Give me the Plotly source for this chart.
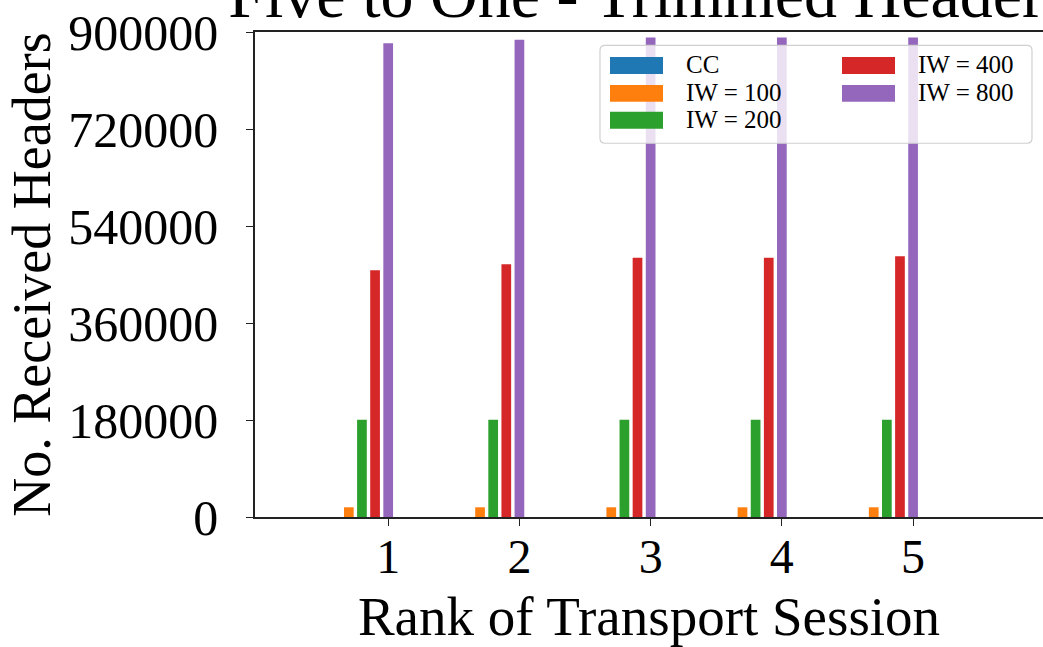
import plotly.graph_objects as go

ranks = [1, 2, 3, 4, 5]
series_names = ["CC", "IW = 100", "IW = 200", "IW = 400", "IW = 800"]
cc = [0, 0, 0, 0, 0]
iw100 = [18000, 18000, 18000, 18000, 18000]
iw200 = [180500, 180500, 180500, 180500, 180500]
iw400 = [458000, 469000, 481000, 481000, 484000]
iw800 = [879000, 885500, 890000, 890000, 890000]
series_values = [cc, iw100, iw200, iw400, iw800]
colors = ["#1f77b4", "#ff7f0e", "#2ca02c", "#d62728", "#9467bd"]
y_ticks = [0, 180000, 360000, 540000, 720000, 900000]

FONT = "Liberation Serif"
W, H = 1043, 647
L, R, T, B = 255, 0, 31.5, 129.5

fig = go.Figure()
step = 0.1
bw = 0.074
for i, (name, vals, col) in enumerate(zip(series_names, series_values, colors)):
    fig.add_trace(go.Bar(
        x=ranks, y=vals, name=name, marker=dict(color=col, line=dict(width=0)),
        width=bw, offset=-(4 - i) * step - bw / 2, showlegend=False,
    ))

pw = W - L - R
ph = H - T - B
def px2x(px):
    return (px - L) / pw
def py2y(py):
    return (H - B - py) / ph

# legend frame (semi-transparent white, rounded)
fx0, fx1, fy0, fy1, rr = 600, 1032, 45, 143, 5
path = (f"M{px2x(fx0 + rr)},{py2y(fy0)} L{px2x(fx1 - rr)},{py2y(fy0)} "
        f"Q{px2x(fx1)},{py2y(fy0)} {px2x(fx1)},{py2y(fy0 + rr)} "
        f"L{px2x(fx1)},{py2y(fy1 - rr)} Q{px2x(fx1)},{py2y(fy1)} {px2x(fx1 - rr)},{py2y(fy1)} "
        f"L{px2x(fx0 + rr)},{py2y(fy1)} Q{px2x(fx0)},{py2y(fy1)} {px2x(fx0)},{py2y(fy1 - rr)} "
        f"L{px2x(fx0)},{py2y(fy0 + rr)} Q{px2x(fx0)},{py2y(fy0)} {px2x(fx0 + rr)},{py2y(fy0)} Z")
fig.add_shape(type="path", xref="paper", yref="paper", path=path,
              fillcolor="rgba(255,255,255,0.8)", line=dict(color="#d0d0d0", width=1.2),
              layer="above")

# legend entries: column-major, 3 rows
col_x = [610, 842]
row_y = [65, 93, 120]
for i, (name, col) in enumerate(zip(series_names, colors)):
    c, r = divmod(i, 3)
    sx, sy = col_x[c], row_y[r]
    fig.add_shape(type="rect", xref="paper", yref="paper",
                  x0=px2x(sx), x1=px2x(sx + 53), y0=py2y(sy + 8.5), y1=py2y(sy - 8.5),
                  fillcolor=col, line=dict(width=0), layer="above")
    fig.add_annotation(xref="paper", yref="paper", x=px2x(sx + 74), y=py2y(sy - 1),
                       text=name, showarrow=False, xanchor="left", yanchor="middle",
                       font=dict(family=FONT, size=25, color="black"))

fig.update_layout(
    width=W, height=H, autosize=False,
    margin=dict(l=L, r=R, t=T, b=B, pad=0),
    paper_bgcolor="white", plot_bgcolor="white",
    barmode="overlay", showlegend=False,
    font=dict(family=FONT, color="black"),
    title=dict(text="Five to One - Trimmed Headers", font=dict(family=FONT, size=66, color="black"),
               xref="paper", x=0.5, xanchor="center", yref="container", y=1 - 17 / H, yanchor="bottom"),
    xaxis=dict(range=[-0.015, 5.99], tickvals=ranks, ticktext=[str(r) for r in ranks],
               showgrid=False, zeroline=False, showline=True, linecolor="#222", linewidth=1.6,
               mirror=True, ticks="outside", ticklen=7, tickwidth=1.3, tickcolor="#222",
               tickfont=dict(family=FONT, size=48), ticklabelstandoff=-10,
               title=dict(text="Rank of Transport Session", font=dict(family=FONT, size=55), standoff=18)),
    yaxis=dict(range=[0, 900000], tickvals=y_ticks, ticktext=[str(v) for v in y_ticks],
               showgrid=False, zeroline=False, showline=True, linecolor="#222", linewidth=1.6,
               ticks="outside", ticklen=7, tickwidth=1.3, tickcolor="#222",
               tickfont=dict(family=FONT, size=50), ticklabelstandoff=18,
               title=dict(text="No. Received Headers", font=dict(family=FONT, size=54), standoff=0)),
)

fig.write_html("out.html")
